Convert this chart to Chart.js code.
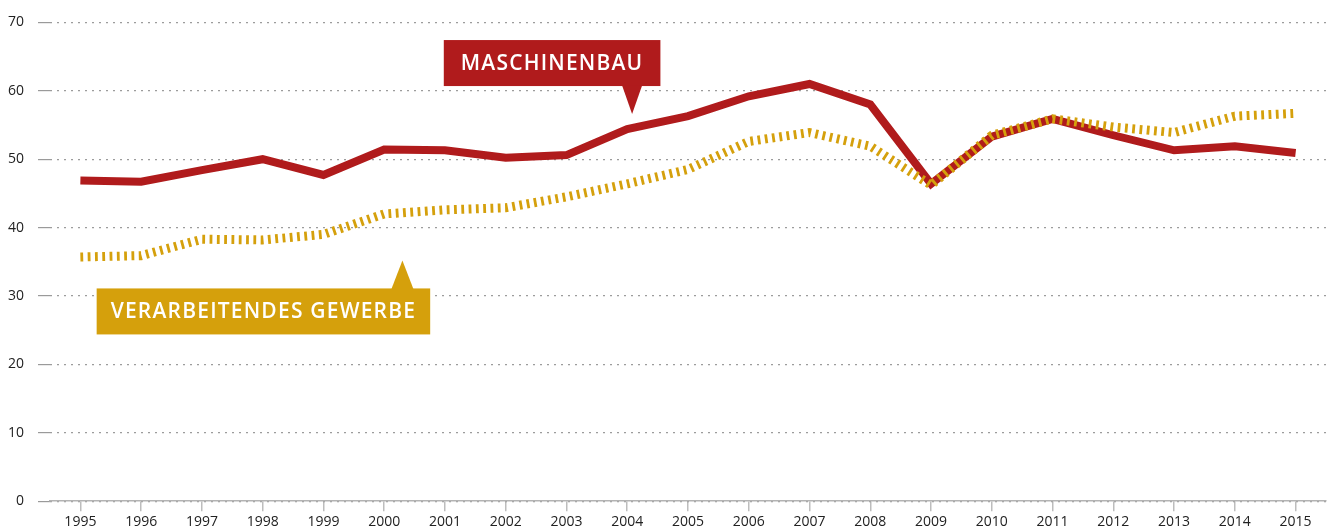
<!DOCTYPE html>
<html>
<head>
<meta charset="utf-8">
<script src="https://cdn.jsdelivr.net/npm/chart.js@4"></script>
<style>
  body { margin: 0; background: #fff; }
  #wrap { width: 1332px; height: 528px; }
</style>
</head>
<body>
<div id="wrap"><canvas id="lineCanvas"></canvas></div>
<script>
// Jahre und Werte
let years = ['1995', '1996', '1997', '1998', '1999', '2000', '2001', '2002', '2003', '2004', '2005',
             '2006', '2007', '2008', '2009', '2010', '2011', '2012', '2013', '2014', '2015'];
let maschinenbau = [46.9, 46.7, 48.4, 50.0, 47.7, 51.4, 51.3, 50.2, 50.6, 54.4, 56.3,
                    59.2, 61.0, 58.0, 46.4, 53.3, 55.9, 53.5, 51.3, 51.9, 50.9];
let verarbeitendesGewerbe = [35.7, 35.9, 38.3, 38.2, 39.0, 42.0, 42.6, 42.9, 44.5, 46.4, 48.5,
                             52.6, 53.9, 51.9, 46.2, 53.5, 55.9, 54.7, 53.9, 56.3, 56.7];
let yTicks = [0, 10, 20, 30, 40, 50, 60, 70];

const RED = '#b01b1c';
const GOLD = '#d5a00c';

// Beschriftungen mit Pfeil (Spitze in Datenkoordinaten)
let calloutPlugin = {
    id: 'callouts',
    afterDatasetsDraw(chart, args, opts) {
        const ctx = chart.ctx;
        const xs = chart.scales.x, ys = chart.scales.y;
        opts.items.forEach(function(item) {
            let tipX = xs.getPixelForValue(item.at[0]);
            let tipY = ys.getPixelForValue(item.at[1]);
            ctx.save();
            ctx.font = '600 21px "Open Sans"';
            ctx.letterSpacing = '1.2px';
            let tw = ctx.measureText(item.text).width;
            let w = tw + 2 * item.padX;
            let h = 46;
            let cx = tipX + item.dx;
            let left = cx - w / 2;
            let top = item.below ? tipY + item.gap : tipY - item.gap - h;
            ctx.fillStyle = item.color;
            ctx.fillRect(left, top, w, h);
            ctx.beginPath();
            if (item.below) {
                ctx.moveTo(tipX - 11, top + 0.5);
                ctx.lineTo(tipX + 11, top + 0.5);
            } else {
                ctx.moveTo(tipX - 10, top + h - 0.5);
                ctx.lineTo(tipX + 10, top + h - 0.5);
            }
            ctx.lineTo(tipX, tipY);
            ctx.closePath();
            ctx.fill();
            ctx.fillStyle = '#ffffff';
            ctx.textAlign = 'left';
            ctx.textBaseline = 'middle';
            ctx.fillText(item.text, left + item.padX, top + h / 2 + 1);
            ctx.restore();
        });
    }
};

let lineCanvas = document.getElementById('lineCanvas').getContext('2d');

let lineChart = new Chart(lineCanvas, {
    type: 'line',
    data: {
        labels: years,
        datasets: [{
            label: 'Verarbeitendes Gewerbe',
            data: verarbeitendesGewerbe,
            borderColor: GOLD,
            borderWidth: 9,
            borderDash: [2.8, 4.5],
            borderCapStyle: 'butt',
            pointRadius: 0,
            tension: 0
        }, {
            label: 'Maschinenbau',
            data: maschinenbau,
            borderColor: RED,
            borderWidth: 8,
            borderJoinStyle: 'miter',
            pointRadius: 0,
            tension: 0
        }]
    },
    options: {
        responsive: true,
        maintainAspectRatio: false,
        animation: false,
        layout: { padding: { top: 14, right: 6, left: 0, bottom: 0 } },
        plugins: {
            legend: { display: false },
            tooltip: { enabled: false },
            callouts: {
                items: [
                    { text: 'MASCHINENBAU', at: [9.08, 56.6], dx: -80, gap: 28, padX: 17, color: RED, below: false },
                    { text: 'VERARBEITENDES GEWERBE', at: [5.3, 35.2], dx: -139, gap: 28, padX: 14, color: GOLD, below: true }
                ]
            }
        },
        scales: {
            x: {
                offset: true,
                afterFit(scale) { scale.height -= 4; },
                grid: {
                    offset: false,
                    drawOnChartArea: false,
                    tickLength: 10,
                    color: '#bdbdbd',
                    lineWidth: 1.5
                },
                border: { display: true, color: '#b3b3b3', width: 1.5 },
                ticks: {
                    color: '#222',
                    font: { family: '"Open Sans"', size: 14 },
                    padding: 2,
                    maxRotation: 0,
                    autoSkip: false
                }
            },
            y: {
                min: 0,
                max: 70,
                afterBuildTicks(scale) {
                    scale.ticks = yTicks.map(function(v) { return { value: v }; });
                },
                afterFit(scale) { scale.width = 50; },
                grid: {
                    color: '#9c9c9c',
                    lineWidth: 1.2,
                    tickLength: 12,
                    tickColor: '#9a9a9a',
                    tickBorderDash: []
                },
                border: { display: false, dash: [2, 5] },
                ticks: {
                    color: '#222',
                    font: { family: '"Open Sans"', size: 14 },
                    padding: 14
                }
            }
        }
    },
    plugins: [calloutPlugin]
});
</script>
</body>
</html>
